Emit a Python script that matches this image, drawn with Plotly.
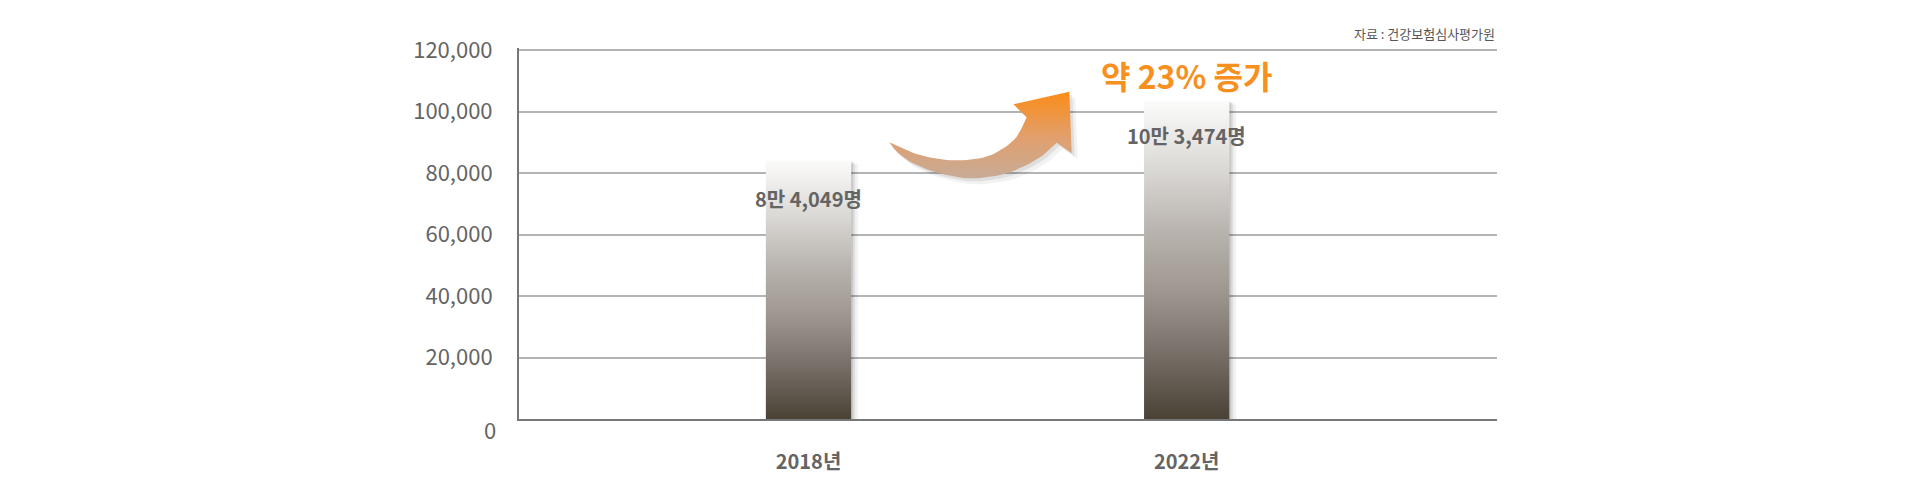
import plotly.graph_objects as go

# ---------------- data ----------------
years = ["2018년", "2022년"]
patients = [84049, 103474]
value_labels = ["8만 4,049명", "10만 3,474명"]
y_ticks = [0, 20000, 40000, 60000, 80000, 100000, 120000]
y_tick_labels = ["", "20,000", "40,000", "60,000", "80,000", "100,000", "120,000"]
headline = "약 23% 증가"
source_note = "자료 : 건강보험심사평가원"

# ---------------- layout constants ----------------
PAGE_OFF = 8                      # default body margin of the html page
W, H = 1920 - 2 * PAGE_OFF, 495 - 2 * PAGE_OFF
PLOT_L, PLOT_R, PLOT_T, PLOT_B = 519, 1497, 48, 419   # page pixel positions of the plot area
M_L, M_T = PLOT_L - PAGE_OFF, PLOT_T - PAGE_OFF
M_R, M_B = W - (PLOT_R - PAGE_OFF), H - (PLOT_B - PAGE_OFF)
X_RANGE = [-0.7655, 1.8205]
Y_RANGE = [0, 120700]
BAR_W = 0.2255
FONT = "Noto Sans CJK KR"
TXT = "#646464"
ORANGE = "#f7901e"

plot_w = PLOT_R - PLOT_L
plot_h = PLOT_B - PLOT_T


def px_to_data(px, py):
    x = X_RANGE[0] + (px - PLOT_L) / plot_w * (X_RANGE[1] - X_RANGE[0])
    y = Y_RANGE[0] + (PLOT_B - py) / plot_h * (Y_RANGE[1] - Y_RANGE[0])
    return x, y


def smooth(points, n=6):
    """Catmull-Rom smoothing of a decorative outline segment."""
    out = []
    for k in range(len(points) - 1):
        p0 = points[k - 1] if k > 0 else points[k]
        p1, p2 = points[k], points[k + 1]
        p3 = points[k + 2] if k + 2 < len(points) else points[k + 1]
        for s in range(n):
            t = s / n
            t2, t3 = t * t, t * t * t
            out.append(tuple(
                0.5 * (2 * p1[j] + (-p0[j] + p2[j]) * t
                       + (2 * p0[j] - 5 * p1[j] + 4 * p2[j] - p3[j]) * t2
                       + (-p0[j] + 3 * p1[j] - 3 * p2[j] + p3[j]) * t3)
                for j in range(2)))
    out.append(points[-1])
    return out


px_unit_x = (X_RANGE[1] - X_RANGE[0]) / plot_w
px_unit_y = (Y_RANGE[1] - Y_RANGE[0]) / plot_h

bar_scale = [[0.0, "#4b4236"], [0.2, "#766e66"], [0.4, "#9e9790"],
             [0.6, "#bab5b0"], [0.8, "#dddbd8"], [1.0, "#fbfbfa"]]

fig = go.Figure()

# bars (gradient-filled rectangles built from the data values)
for i, v in enumerate(patients):
    x0, x1 = i - BAR_W / 2, i + BAR_W / 2
    for off, alpha in ((7, 0.05), (4, 0.08), (2, 0.10)):
        dx = off * px_unit_x
        fig.add_trace(go.Scatter(
            x=[x0 + dx, x1 + dx, x1 + dx, x0 + dx, x0 + dx],
            y=[0, 0, v - off * px_unit_y * 0.5, v - off * px_unit_y * 0.5, 0],
            fill="toself", mode="lines", line=dict(width=0),
            fillcolor=f"rgba(0,0,0,{alpha})", hoverinfo="skip", showlegend=False))
    fig.add_trace(go.Scatter(
        x=[x0, x1, x1, x0, x0], y=[0, 0, v, v, 0],
        fill="toself", mode="lines", line=dict(width=0),
        fillgradient=dict(type="vertical", colorscale=bar_scale),
        hoverinfo="text", text=f"{years[i]}: {v:,}", showlegend=False))

# curved arrow (decoration), outline given in page pixel positions
inner_curve = [(889.3, 142.3), (910, 151.7), (926.7, 156.7), (946.7, 160), (966.7, 160),
               (986.7, 156.7), (1003.3, 148.3), (1016.7, 136.7), (1026.7, 117.3)]
head = [(1013.3, 104.3), (1069.3, 91.7), (1071.7, 153.3)]
outer_curve = [(1056.7, 142.7), (1043.3, 155), (1026.7, 165), (1006.7, 173.3),
               (986.7, 177.3), (966.7, 178.3), (943.3, 174.3), (926.7, 169.3),
               (910, 161.7), (897, 152), (889.3, 142.3)]
arrow_px = smooth(inner_curve) + head + smooth(outer_curve)

for off, alpha in ((6, 0.05), (3, 0.08)):
    pts = [px_to_data(x + off, y + off) for x, y in arrow_px]
    fig.add_trace(go.Scatter(
        x=[p[0] for p in pts], y=[p[1] for p in pts], fill="toself", mode="lines",
        line=dict(width=0), fillcolor=f"rgba(0,0,0,{alpha})",
        hoverinfo="skip", showlegend=False))
pts = [px_to_data(x, y) for x, y in arrow_px]
fig.add_trace(go.Scatter(
    x=[p[0] for p in pts], y=[p[1] for p in pts], fill="toself", mode="lines",
    line=dict(width=0),
    fillgradient=dict(type="vertical",
                      colorscale=[[0, "#c7ab97"], [0.45, "#e0a070"], [1, "#fb8c18"]]),
    hoverinfo="skip", showlegend=False))

# value labels
label_shift = [-38, -35]
for i, (v, t) in enumerate(zip(patients, value_labels)):
    fig.add_annotation(x=i, y=v, xref="x", yref="y", text=f"<b>{t}</b>",
                       showarrow=False, yshift=label_shift[i], yanchor="middle",
                       font=dict(family=FONT, size=20, color=TXT))

# headline
fig.add_annotation(x=1, y=(PLOT_B - 75) / plot_h, xref="x", yref="paper",
                   text=f"<b>{headline}</b>", showarrow=False, yanchor="middle",
                   font=dict(family=FONT, size=32, color=ORANGE))

# source
fig.add_annotation(x=1, y=1 + (PLOT_T - 33) / plot_h, xref="paper", yref="paper",
                   text=source_note, showarrow=False, xanchor="right", yanchor="middle",
                   font=dict(family=FONT, size=13, color="#555555"))

# "0" label, sitting slightly below the baseline
fig.add_annotation(x=0, y=0, xref="paper", yref="y", text="0", showarrow=False,
                   xanchor="right", yanchor="middle", xshift=-21, yshift=-10,
                   font=dict(family=FONT, size=22, color=TXT))

fig.update_layout(
    width=W, height=H,
    margin=dict(l=M_L, r=M_R, t=M_T, b=M_B, pad=0),
    plot_bgcolor="white", paper_bgcolor="white",
    font=dict(family=FONT, color=TXT),
    showlegend=False,
    xaxis=dict(range=X_RANGE, tickmode="array", tickvals=list(range(len(years))),
               ticktext=[f"<b>{y}</b>" for y in years], showgrid=False, zeroline=False,
               showline=True, linecolor="#777777", linewidth=2, ticks="",
               ticklabelstandoff=24, tickfont=dict(family=FONT, size=20, color=TXT),
               fixedrange=True),
    yaxis=dict(range=Y_RANGE, tickmode="array", tickvals=y_ticks, ticktext=y_tick_labels,
               showgrid=True, gridcolor="#b4b4b4", gridwidth=1.5, zeroline=False,
               showline=True, linecolor="#777777", linewidth=2, ticks="",
               ticklabelstandoff=20, tickfont=dict(family=FONT, size=22, color=TXT),
               fixedrange=True),
)

fig.write_html("out.html")
